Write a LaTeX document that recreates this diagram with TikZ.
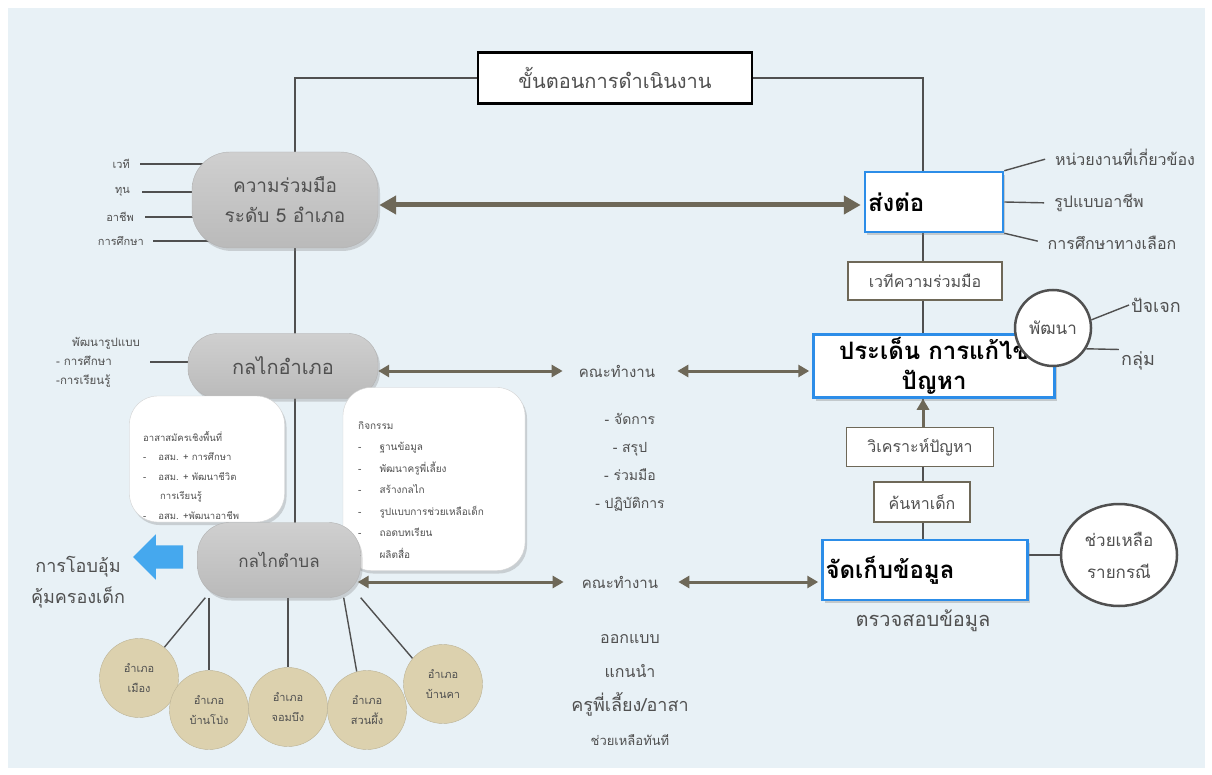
\documentclass[tikz,border=0pt]{standalone}
\usepackage{fontspec}
\setmainfont[Script=Thai]{Loma}
\usetikzlibrary{arrows, arrows.meta}
\usetikzlibrary{calc}
\usetikzlibrary{shadows}
\usetikzlibrary{shapes.geometric, shapes.arrows}

\definecolor{paper}{HTML}{E8F1F6}
\definecolor{greybox}{HTML}{CACACA}
\definecolor{ink}{HTML}{505050}
\definecolor{arrowc}{HTML}{6E6858}
\definecolor{bluebd}{HTML}{2C8DE8}
\definecolor{beige}{HTML}{DCD1AE}
\definecolor{skyarrow}{HTML}{45A8EE}

\pgfdeclarelayer{back}
\pgfdeclarelayer{lines}
\pgfsetlayers{back,lines,main}

\newcommand{\fs}[1]{\fontsize{#1}{1.3\dimexpr#1pt\relax}\selectfont}

\tikzset{
  txt/.style={text=ink, inner sep=2pt},
  wire/.style={draw=ink, line width=1.4pt},
  grey/.style={draw=gray!60, top color=greybox!90, bottom color=greybox!92!black, rounded corners=#1, text=ink, align=center,
    drop shadow={opacity=0.3, shadow xshift=2pt, shadow yshift=-3pt}},
  card/.style={draw=gray!35, fill=white, rounded corners=28pt,
    drop shadow={opacity=0.3, shadow xshift=2pt, shadow yshift=-3pt}},
  cardtxt/.style={text=ink, align=left, inner sep=0pt, font=\fontsize{10}{20.5}\selectfont},
  bluebox/.style={draw=bluebd, line width=2.5pt, fill=white, text=black, inner sep=3pt,
    font=\bfseries\fontsize{24}{31}\selectfont,
    drop shadow={opacity=0.35, shadow xshift=2pt, shadow yshift=-3pt}},
  plainbox/.style={draw=arrowc, line width=1.8pt, fill=white, text=ink, font=\fs{16}},
  ring/.style={circle, draw=ink, line width=2.5pt, fill=white, text=ink, align=center, font=\fs{17}},
  town/.style={circle, draw=beige!85!black, fill=beige, minimum size=79pt, inner sep=0pt,
    text=ink, align=center, font=\fontsize{11}{20}\selectfont},
  dbl/.style={draw=arrowc, line width=3pt, {Triangle[length=11pt,width=12pt]}-{Triangle[length=11pt,width=12pt]}},
  bigdbl/.style={draw=arrowc, line width=5pt, {Triangle[length=17pt,width=18pt]}-{Triangle[length=17pt,width=18pt]}}
}

\begin{document}
\begin{tikzpicture}[x=1pt, y=-1pt]
  \useasboundingbox (0,0) rectangle (1212,775);
  \begin{pgfonlayer}{back}
    \fill[white] (0,0) rectangle (1212,775);
    \fill[paper] (8,8) rectangle (1205,768);
  \end{pgfonlayer}

  % heading
  \node[draw=black, line width=2.5pt, fill=white, minimum width=274pt, minimum height=51pt,
    text=ink, font=\fs{20}] (title) at (615,78) {ขั้นตอนการดำเนินงาน};
  \coordinate (lspine) at (295,560);
  \coordinate (rspine) at (923,570);

  % left column
  \node[grey=38pt, minimum width=186pt, minimum height=96pt, font=\fontsize{19}{30}\selectfont] (coop) at (285,200) {ความร่วมมือ\\ระดับ 5 อำเภอ};
  \node[txt, anchor=east, font=\fs{11}] (v1) at (132,164) {เวที};
  \node[txt, anchor=east, font=\fs{11}] (v2) at (132,192) {ทุน};
  \node[txt, anchor=east, font=\fs{11}] (v3) at (136,217) {อาชีพ};
  \node[txt, anchor=east, font=\fs{11}] (v4) at (146,241) {การศึกษา};

  \node[grey=30pt, minimum width=190pt, minimum height=65pt, font=\fs{20}] (amphoe) at (283,366) {กลไกอำเภอ};
  \node[txt, anchor=north west, align=left, font=\fontsize{11.5}{19}\selectfont] (form) at (54,335)
    {\hspace{16pt}พัฒนารูปแบบ\\- การศึกษา\\-การเรียนรู้};

  \node[card, minimum width=155pt, minimum height=126pt] (vol) at (207,459) {};
  \node[cardtxt, anchor=north west, font=\fontsize{9.5}{19.5}\selectfont] (voltxt) at (143,431)
    {อาสาสมัครเชิงพื้นที่\\
     -\hspace{12pt}อสม. + การศึกษา\\
     -\hspace{12pt}อสม. + พัฒนาชีวิต\\
     \hspace{17pt}การเรียนรู้\\
     -\hspace{12pt}อสม. +พัฒนาอาชีพ};

  \node[card, minimum width=182pt, minimum height=183pt] (act) at (434,479) {};
  \node[cardtxt, anchor=north west, font=\fontsize{10}{21.5}\selectfont] (acttxt) at (358,421)
    {กิจกรรม\\
     -\hspace{18pt}ฐานข้อมูล\\
     -\hspace{18pt}พัฒนาครูพี่เลี้ยง\\
     -\hspace{18pt}สร้างกลไก\\
     -\hspace{18pt}รูปแบบการช่วยเหลือเด็ก\\
     -\hspace{18pt}ถอดบทเรียน\\
     -\hspace{18pt}ผลิตสื่อ};

  \node[grey=32pt, minimum width=163pt, minimum height=75pt, font=\fs{17}] (tambon) at (279,560) {กลไกตำบล};
  \node[single arrow, fill=skyarrow, shape border rotate=180, inner sep=0pt,
    minimum height=50pt, single arrow head extend=11pt] (hug) at (164,557) {\rule{0pt}{23pt}};
  \node[txt, align=center, font=\fontsize{18}{31}\selectfont] (cuddle) at (78,582) {การโอบอุ้ม\\คุ้มครองเด็ก};

  \node[town] (c1) at (139,678) {อำเภอ\\เมือง};
  \node[town] (c2) at (209,710) {อำเภอ\\บ้านโป่ง};
  \node[town] (c3) at (288,707) {อำเภอ\\จอมบึง};
  \node[town] (c4) at (367,710) {อำเภอ\\สวนผึ้ง};
  \node[town] (c5) at (443,684) {อำเภอ\\บ้านคา};

  % middle column
  \node[txt, font=\fs{15}] (team1) at (617,371) {คณะทำงาน};
  \node[txt, align=center, font=\fontsize{14}{28}\selectfont] (duty) at (630,462) {- จัดการ\\- สรุป\\- ร่วมมือ\\- ปฏิบัติการ};
  \node[txt, font=\fs{15}] (team2) at (620,582) {คณะทำงาน};
  \node[txt, align=center, font=\fontsize{16}{34}\selectfont] (lead) at (630,690)
    {ออกแบบ\\แกนนำ\\{\fontsize{18}{34}\selectfont ครูพี่เลี้ยง/อาสา}\\{\fontsize{13}{34}\selectfont ช่วยเหลือทันที}};

  % right column
  \node[bluebox, text width=132pt, align=left, minimum height=60pt] (send) at (934,202) {ส่งต่อ};
  \node[txt, font=\fs{16}] (rel) at (1125,157) {หน่วยงานที่เกี่ยวข้อง};
  \node[txt, font=\fs{16}] (car) at (1099,203) {รูปแบบอาชีพ};
  \node[txt, font=\fs{16}] (alt) at (1112,243) {การศึกษาทางเลือก};
  \node[plainbox, minimum width=154pt, minimum height=38pt] (forum) at (925,281) {เวทีความร่วมมือ};
  \node[bluebox, text width=239pt, align=center, minimum height=63pt, inner sep=1pt,
    font=\bfseries\fontsize{24}{30}\selectfont] (issue) at (934,366) {ประเด็น การแก้ไข\\ปัญหา};
  \node[ring, minimum size=76pt, inner sep=0pt] (dev) at (1053,328) {พัฒนา};
  \node[txt, font=\fs{18}] (ind) at (1156,305) {ปัจเจก};
  \node[txt, font=\fs{18}] (grp) at (1138,361) {กลุ่ม};
  \node[plainbox, minimum width=147pt, minimum height=39pt] (analyse) at (920,447) {วิเคราะห์ปัญหา};
  \node[plainbox, minimum width=96pt, minimum height=40pt] (search) at (922,502) {ค้นหาเด็ก};
  \node[bluebox, text width=199pt, align=left, minimum height=60pt] (collect) at (925,570) {จัดเก็บข้อมูล};
  \node[txt, font=\fs{20}] (check) at (923,621) {ตรวจสอบข้อมูล};
  \node[ring, ellipse, minimum width=116pt, minimum height=102pt, inner sep=0pt,
    font=\fontsize{17}{32}\selectfont] (case) at (1119,555) {ช่วยเหลือ\\รายกรณี};

  % connectors behind the boxes
  \begin{pgfonlayer}{lines}
    \draw[wire] (title.west) -| (lspine);
    \draw[wire] (title.east) -| (rspine);
    \draw[wire] ($(v1.east)+(8,0)$) -- (v1.east -| coop.center);
    \draw[wire] ($(v2.east)+(10,0)$) -- (v2.east -| coop.center);
    \draw[wire] ($(v3.east)+(9,0)$) -- (v3.east -| coop.center);
    \draw[wire] ($(v4.east)+(7,0)$) -- (v4.east -| coop.center);
    \draw[wire] (150,362) -- (amphoe.center |- 0,362);
    \draw[wire] ($(tambon.south west)+(8,0)$) -- (c1);
    \draw[wire] (c2.north |- tambon.south) -- (c2);
    \draw[wire] (c3.north |- tambon.south) -- (c3);
    \draw[wire] ($(tambon.south east)+(-17,0)$) -- (c4.105);
    \draw[wire] (tambon.south east) -- (c5.140);
    \draw[wire, shorten >=8pt] (send.north east) -- (rel.west);
    \draw[wire, shorten >=8pt] (send.east) -- (car.west);
    \draw[wire, shorten >=8pt] (send.south east) -- (alt.west);
    \draw[wire] (dev.12) -- (ind.west);
    \draw[wire] (dev.-32) -- (grp.north west);
    \draw[wire] (collect.east |- case.west) -- (case.west);
  \end{pgfonlayer}

  % arrows
  \draw[bigdbl] ($(coop.east)+(1,5)$) -- ($(send.west)+(-3,3)$);
  \draw[dbl] (amphoe.east |- team1.west) -- ($(team1.west)+(-14,0)$);
  \draw[dbl] ($(team1.east)+(20,0)$) -- ($(issue.west |- team1.east)+(-3,0)$);
  \draw[dbl] ($(tambon.east |- team2.west)+(-3,0)$) -- ($(team2.west)+(-16,0)$);
  \draw[dbl] ($(team2.east)+(18,0)$) -- ($(collect.west |- team2.east)+(-3,0)$);
  \draw[draw=arrowc, line width=3pt, -{Triangle[length=11pt,width=12pt]}] (analyse.north -| rspine) -- (issue.south -| rspine);
\end{tikzpicture}
\end{document}
